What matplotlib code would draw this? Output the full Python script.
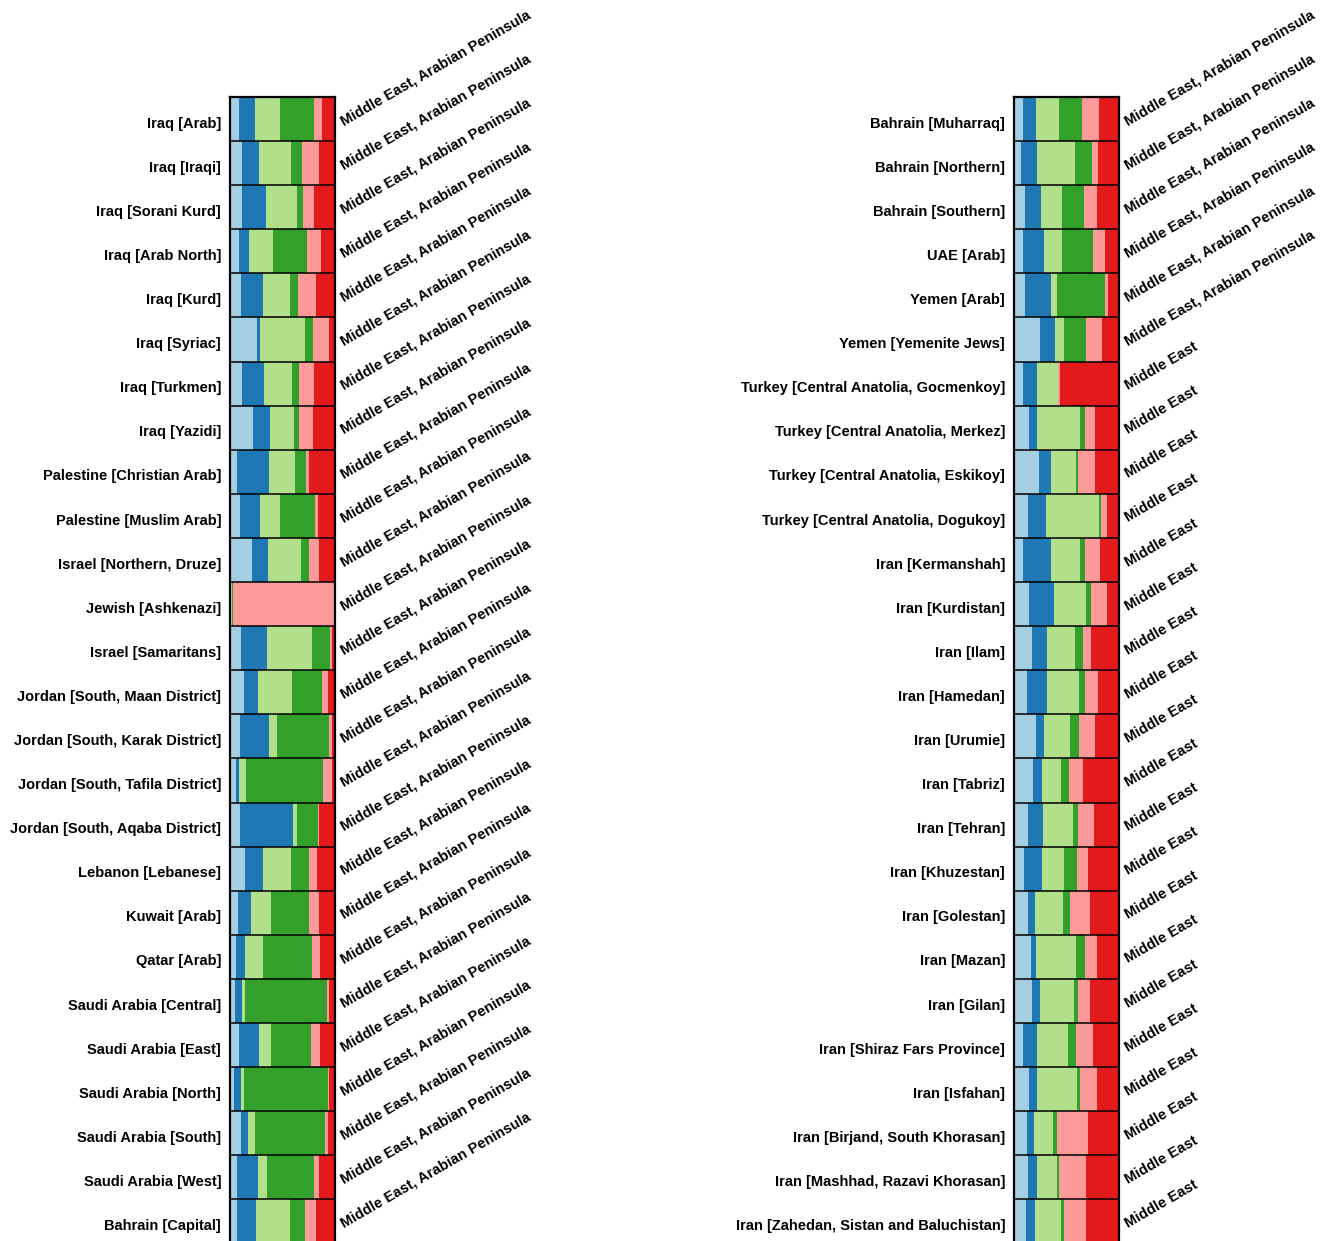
import numpy as np
import matplotlib
matplotlib.use("Agg")
import matplotlib.pyplot as plt

plt.rcParams["font.family"] = ["Liberation Sans", "DejaVu Sans"]

# Population labels (left and right panels)
left_pops = [
    "Iraq [Arab]", "Iraq [Iraqi]", "Iraq [Sorani Kurd]", "Iraq [Arab North]",
    "Iraq [Kurd]", "Iraq [Syriac]", "Iraq [Turkmen]", "Iraq [Yazidi]",
    "Palestine [Christian Arab]", "Palestine [Muslim Arab]",
    "Israel [Northern, Druze]", "Jewish [Ashkenazi]", "Israel [Samaritans]",
    "Jordan [South, Maan District]", "Jordan [South, Karak District]",
    "Jordan [South, Tafila District]", "Jordan [South, Aqaba District]",
    "Lebanon [Lebanese]", "Kuwait [Arab]", "Qatar [Arab]",
    "Saudi Arabia [Central]", "Saudi Arabia [East]", "Saudi Arabia [North]",
    "Saudi Arabia [South]", "Saudi Arabia [West]", "Bahrain [Capital]",
]
right_pops = [
    "Bahrain [Muharraq]", "Bahrain [Northern]", "Bahrain [Southern]",
    "UAE [Arab]", "Yemen [Arab]", "Yemen [Yemenite Jews]",
    "Turkey [Central Anatolia, Gocmenkoy]", "Turkey [Central Anatolia, Merkez]",
    "Turkey [Central Anatolia, Eskikoy]", "Turkey [Central Anatolia, Dogukoy]",
    "Iran [Kermanshah]", "Iran [Kurdistan]", "Iran [Ilam]", "Iran [Hamedan]",
    "Iran [Urumie]", "Iran [Tabriz]", "Iran [Tehran]", "Iran [Khuzestan]",
    "Iran [Golestan]", "Iran [Mazan]", "Iran [Gilan]",
    "Iran [Shiraz Fars Province]", "Iran [Isfahan]",
    "Iran [Birjand, South Khorasan]", "Iran [Mashhad, Razavi Khorasan]",
    "Iran [Zahedan, Sistan and Baluchistan]",
]

# Region labels
left_regions = ["Middle East, Arabian Peninsula"] * 26
right_regions = ["Middle East, Arabian Peninsula"] * 6 + ["Middle East"] * 20

# Ancestry components (%), left panel
left_k1 = [9.0, 12.2, 12.2, 9.0, 10.6, 26.3, 12.2, 22.4, 7.1, 9.6, 21.8, 1.2, 10.6,
           13.5, 9.6, 6.1, 10.3, 14.4, 8.0, 5.8, 4.8, 8.7, 4.2, 10.6, 6.7, 7.4]
left_k2 = [15.4, 16.0, 22.1, 9.6, 20.8, 2.6, 20.2, 16.3, 30.1, 19.2, 15.1, 0.4, 24.7,
           13.8, 28.2, 2.9, 50.3, 17.0, 12.2, 9.3, 7.4, 19.2, 7.1, 7.4, 20.5, 17.9]
left_k3 = [23.1, 29.8, 29.5, 22.4, 26.0, 42.9, 26.6, 22.4, 24.7, 18.9, 30.4, 0.3, 43.3,
           32.1, 7.1, 7.1, 3.8, 26.9, 18.9, 16.7, 2.9, 11.2, 2.9, 6.4, 8.0, 31.7]
left_k4 = [32.7, 10.3, 5.8, 32.7, 7.1, 7.1, 7.4, 5.1, 10.3, 33.3, 8.0, 1.0, 16.7,
           28.8, 49.7, 72.8, 19.6, 17.0, 36.2, 46.2, 77.2, 38.5, 79.5, 65.7, 45.2, 14.7]
left_k5 = [8.0, 16.3, 10.6, 13.5, 17.6, 15.7, 13.8, 12.8, 3.2, 2.6, 9.3, 96.6, 1.6,
           4.8, 2.2, 8.3, 0.6, 7.4, 9.3, 8.3, 2.2, 8.0, 0.6, 3.2, 4.2, 10.3]
left_k6 = [11.9, 15.4, 19.9, 12.8, 17.9, 5.4, 19.9, 20.8, 24.7, 16.3, 15.4, 0.5, 3.2,
           7.1, 3.2, 2.9, 15.4, 17.3, 15.4, 13.8, 5.4, 14.4, 5.8, 6.7, 15.4, 17.9]

# Ancestry components (%), right panel
right_k1 = [8.6, 7.0, 10.8, 9.2, 10.8, 25.2, 8.9, 14.6, 24.2, 13.7, 9.2, 14.6, 17.2,
            12.7, 21.0, 18.2, 13.7, 10.2, 13.7, 16.2, 17.2, 9.2, 14.6, 12.7, 13.7, 11.8]
right_k2 = [12.7, 15.6, 15.3, 19.7, 24.5, 14.6, 13.7, 8.0, 11.1, 16.9, 26.1, 23.6, 14.3,
            18.8, 8.0, 9.2, 14.6, 16.9, 6.4, 5.1, 8.0, 13.4, 8.0, 6.4, 8.9, 8.9]
right_k3 = [22.0, 35.7, 20.1, 17.2, 6.4, 8.3, 19.1, 40.1, 23.6, 50.3, 28.0, 30.9, 26.4,
            30.6, 24.8, 17.5, 28.0, 20.7, 26.4, 37.9, 32.2, 29.3, 37.9, 18.2, 18.2, 23.9]
right_k4 = [22.0, 16.2, 21.0, 29.6, 44.6, 20.4, 0.6, 5.4, 2.5, 1.6, 4.5, 4.5, 8.0,
            5.4, 8.6, 7.3, 5.1, 12.7, 7.0, 8.9, 4.1, 7.0, 2.2, 3.5, 2.5, 2.9]
right_k5 = [15.9, 5.7, 11.5, 10.8, 2.9, 15.0, 2.2, 8.9, 15.6, 6.4, 14.0, 14.6, 7.6,
            12.7, 14.6, 13.7, 14.6, 10.2, 19.1, 10.5, 10.8, 16.2, 16.2, 29.9, 25.5, 21.3]
right_k6 = [18.8, 19.7, 21.3, 13.4, 10.8, 16.6, 55.4, 22.9, 22.9, 11.1, 18.2, 11.8, 26.4,
            19.7, 22.9, 34.1, 23.9, 29.3, 27.4, 21.3, 27.7, 24.8, 21.0, 29.3, 31.2, 31.2]

colors = ["#a6cee3", "#1f78b4", "#b2df8a", "#33a02c", "#fb9a99", "#e31a1c"]

W, H = 1330, 1241
fig = plt.figure(figsize=(W / 100, H / 100), dpi=100)


def panel(x0, x1, pops, regions, comps):
    top, bottom = 97, 1243.5
    ax = fig.add_axes([x0 / W, (H - bottom) / H, (x1 - x0) / W, (bottom - top) / H])
    data = np.array(comps, dtype=float)
    data = data / data.sum(axis=0, keepdims=True)
    n = data.shape[1]
    y = np.arange(n)
    left = np.zeros(n)
    for vals, c in zip(data, colors):
        ax.barh(y, vals, left=left, height=1.0, color=c, edgecolor="none")
        left += vals
    for i in range(n - 1):
        ax.axhline(i + 0.5, color="black", lw=1.1)
    ax.set_xlim(0, 1)
    ax.set_ylim(n - 0.5, -0.5)
    ax.set_xticks([])
    ticks = y + 0.07
    ax.set_yticks(ticks)
    ax.set_yticklabels(pops, fontsize=10.5, fontweight="bold")
    ax.tick_params(axis="y", length=0, pad=6)
    for s in ax.spines.values():
        s.set_linewidth(1.6)

    ax2 = ax.twinx()
    ax2.set_ylim(n - 0.5, -0.5)
    ax2.set_yticks(ticks)
    ax2.set_yticklabels(regions, fontsize=10.5, fontweight="bold",
                        rotation=30, rotation_mode="anchor", ha="left", va="center")
    ax2.tick_params(axis="y", length=0, pad=5)
    for s in ax2.spines.values():
        s.set_visible(False)


panel(229.5, 335, left_pops, left_regions,
      [left_k1, left_k2, left_k3, left_k4, left_k5, left_k6])
panel(1013.5, 1119, right_pops, right_regions,
      [right_k1, right_k2, right_k3, right_k4, right_k5, right_k6])

fig.savefig("out.png", dpi=100)
